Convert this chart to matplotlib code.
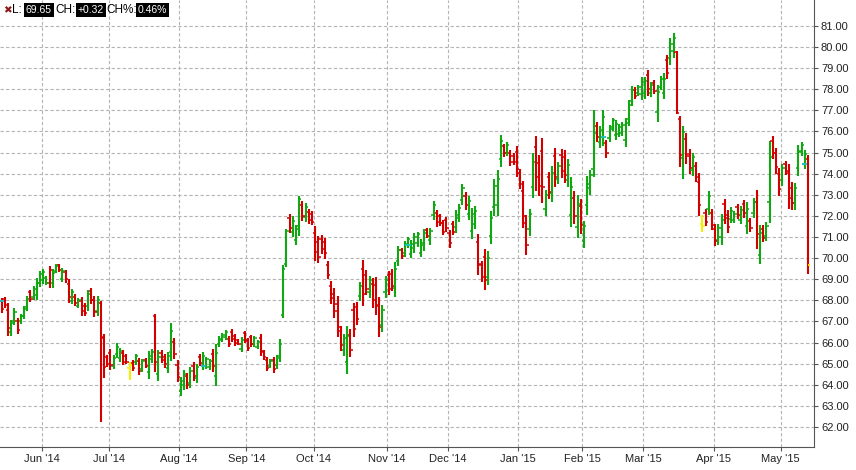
import pandas as pd
import matplotlib
matplotlib.use("Agg")
import matplotlib.pyplot as plt

plt.rcParams["font.family"] = ["Liberation Sans", "DejaVu Sans"]

HOLIDAYS = ["2014-05-26", "2014-07-04", "2014-09-01", "2014-11-27", "2014-12-25",
            "2015-01-01", "2015-01-19", "2015-02-16", "2015-04-03"]

highs = [
    68.13, 68.16, 67.86, 67.06, 67.62, 67.17, 67.33, 67.73, 68.20, 68.49,
    68.70, 69.05, 69.40, 69.50, 69.13, 69.63, 69.50, 69.73, 69.73, 69.52,
    69.44, 69.02, 68.54, 68.29, 68.13, 68.16, 67.87, 68.49, 68.59, 68.20,
    68.20, 67.97, 66.40, 65.43, 65.71, 65.40, 65.98, 65.76, 65.63, 65.44,
    65.06, 65.16, 65.48, 65.29, 65.24, 65.29, 65.60, 65.70, 67.33, 65.63,
    65.63, 65.47, 65.55, 66.92, 66.23, 65.15, 64.39, 64.68, 64.55, 64.84,
    65.10, 65.00, 65.44, 65.55, 65.31, 65.23, 65.70, 65.91, 66.29, 66.44,
    66.60, 66.29, 66.65, 66.41, 66.16, 66.25, 66.55, 66.21, 66.36, 66.32,
    66.13, 66.41, 65.66, 65.31, 65.23, 65.31, 65.42, 66.16, 69.67, 71.40,
    72.10, 71.98, 71.55, 72.92, 72.69, 72.62, 72.31, 72.21, 71.50, 71.03,
    71.08, 70.96, 69.86, 68.91, 68.60, 68.20, 66.79, 66.41, 66.76, 66.65,
    67.87, 67.92, 68.88, 69.91, 69.44, 69.15, 69.04, 69.09, 68.14, 67.78,
    69.15, 69.41, 69.47, 69.83, 70.58, 70.50, 70.81, 70.99, 70.86, 71.21,
    71.26, 70.89, 71.37, 71.41, 71.44, 72.69, 72.30, 72.11, 71.79, 71.95,
    71.35, 71.74, 72.26, 72.55, 73.50, 73.13, 72.93, 72.39, 72.45, 71.13,
    69.87, 70.42, 70.32, 72.22, 73.76, 74.16, 75.84, 75.41, 75.49, 75.12,
    74.96, 75.31, 74.20, 73.64, 72.02, 72.34, 75.00, 75.79, 74.89, 75.68,
    73.25, 74.09, 74.36, 75.20, 74.56, 75.17, 75.12, 74.68, 73.82, 73.17,
    72.98, 72.79, 71.76, 73.88, 74.16, 77.01, 76.43, 76.25, 77.01, 75.62,
    76.30, 76.66, 76.54, 76.35, 76.43, 76.66, 77.49, 78.15, 78.09, 78.20,
    78.56, 78.59, 78.91, 78.33, 78.44, 78.20, 78.63, 78.75, 79.62, 80.41,
    80.68, 79.81, 76.73, 76.25, 75.94, 75.16, 74.99, 74.56, 74.04, 72.03,
    72.31, 73.18, 72.32, 71.61, 71.64, 72.11, 72.82, 72.27, 72.40, 72.22,
    72.56, 72.46, 72.75, 72.64, 71.92, 72.87, 73.22, 71.56, 71.56, 71.72,
    75.54, 75.78, 75.24, 74.25, 74.48, 74.59, 74.45, 73.61, 73.58, 75.35,
    75.48, 75.12, 74.88,
]

lows = [
    67.41, 67.62, 66.30, 66.30, 66.83, 66.41, 66.90, 67.11, 67.50, 67.94,
    68.00, 68.00, 68.65, 68.76, 68.73, 68.57, 68.57, 69.29, 69.32, 68.86,
    68.84, 67.86, 67.81, 67.73, 67.62, 67.27, 67.27, 67.51, 67.84, 67.22,
    67.27, 62.25, 64.32, 64.84, 64.68, 64.73, 65.27, 65.08, 64.92, 64.97,
    64.24, 64.65, 64.95, 64.44, 64.60, 64.79, 64.29, 65.03, 64.60, 64.17,
    65.03, 64.79, 64.55, 65.12, 65.20, 64.12, 63.46, 63.76, 63.81, 63.86,
    64.17, 64.08, 64.91, 64.68, 64.76, 64.68, 64.60, 63.94, 65.78, 66.02,
    66.13, 65.78, 66.02, 65.85, 65.86, 65.53, 65.97, 65.58, 65.78, 65.77,
    65.69, 65.34, 65.19, 64.64, 64.79, 64.56, 64.76, 65.06, 67.15, 69.56,
    71.19, 71.00, 70.61, 71.03, 71.76, 71.71, 71.63, 71.55, 69.87, 69.75,
    70.19, 69.98, 68.99, 67.83, 67.15, 66.25, 65.58, 65.37, 64.52, 65.31,
    66.24, 66.84, 67.98, 67.73, 68.25, 68.12, 67.65, 67.30, 66.24, 66.51,
    68.12, 68.25, 68.44, 68.17, 69.64, 69.94, 70.07, 70.47, 69.99, 70.23,
    70.54, 70.04, 70.35, 70.94, 70.64, 71.79, 71.48, 71.51, 71.08, 71.24,
    70.50, 71.08, 71.19, 71.71, 72.53, 72.30, 71.79, 70.92, 71.37, 69.22,
    68.87, 68.48, 68.72, 70.66, 72.00, 72.00, 74.30, 74.81, 74.84, 74.38,
    74.41, 73.85, 73.26, 71.43, 70.16, 71.03, 72.85, 73.18, 72.93, 72.61,
    71.99, 72.78, 72.66, 73.37, 73.50, 73.80, 73.56, 73.37, 71.47, 71.60,
    70.95, 71.16, 70.48, 72.06, 73.01, 73.85, 75.51, 75.24, 75.32, 74.75,
    75.48, 76.03, 75.62, 75.72, 75.79, 75.27, 76.27, 77.22, 77.52, 77.69,
    77.49, 77.53, 77.69, 77.65, 77.77, 76.46, 77.96, 77.53, 78.47, 79.15,
    79.50, 76.85, 74.32, 73.74, 74.48, 73.97, 73.90, 73.61, 72.00, 71.24,
    71.52, 72.03, 71.32, 70.57, 70.61, 70.61, 71.61, 71.20, 71.67, 71.67,
    71.85, 71.61, 71.92, 71.13, 71.24, 71.92, 70.42, 69.71, 70.77, 70.82,
    71.67, 74.69, 73.98, 72.95, 73.42, 73.96, 72.32, 72.27, 72.30, 73.90,
    74.85, 74.21, 69.27,
]

opens = [
    67.99, 68.05, 67.55, 66.49, 67.03, 67.02, 67.01, 67.27, 67.68, 68.38,
    68.18, 68.26, 68.84, 68.95, 69.05, 68.84, 68.80, 69.40, 69.65, 69.02,
    69.32, 68.79, 67.99, 68.18, 67.75, 67.98, 67.75, 67.75, 68.44, 68.00,
    67.50, 67.85, 66.24, 65.30, 65.50, 64.90, 65.45, 65.25, 65.50, 65.35,
    64.80, 65.05, 65.08, 65.12, 64.76, 65.19, 64.62, 65.20, 67.28, 64.50,
    65.50, 65.33, 64.80, 65.57, 66.02, 64.94, 63.69, 63.99, 64.40, 64.10,
    64.91, 64.31, 65.33, 64.90, 64.90, 64.82, 65.48, 64.43, 65.91, 66.13,
    66.25, 66.19, 66.52, 66.30, 66.10, 65.71, 66.43, 66.08, 66.24, 65.91,
    65.80, 66.20, 65.57, 65.18, 64.90, 65.16, 64.93, 65.34, 67.30, 69.70,
    71.92, 71.25, 70.85, 71.50, 72.50, 71.94, 72.17, 72.08, 71.17, 70.77,
    70.90, 70.76, 69.69, 68.69, 68.31, 67.81, 66.55, 65.63, 65.08, 66.38,
    67.54, 67.70, 68.20, 69.47, 69.20, 68.38, 68.76, 68.73, 67.76, 66.83,
    68.38, 69.18, 69.26, 68.59, 69.88, 70.39, 70.26, 70.60, 70.21, 70.48,
    70.72, 70.25, 70.61, 71.32, 70.84, 72.02, 72.14, 71.99, 71.65, 71.81,
    71.18, 71.61, 71.46, 71.92, 72.77, 72.96, 72.08, 71.29, 71.64, 70.75,
    69.67, 70.03, 69.12, 71.05, 72.44, 72.54, 74.69, 75.29, 75.00, 74.97,
    74.85, 75.02, 74.01, 73.20, 71.65, 71.36, 73.39, 75.27, 74.50, 75.07,
    72.31, 73.83, 73.09, 74.83, 73.77, 74.90, 74.81, 73.70, 72.06, 72.86,
    71.46, 72.46, 70.80, 72.52, 73.30, 74.24, 76.25, 75.49, 75.74, 75.45,
    75.69, 76.19, 75.85, 75.88, 75.95, 75.62, 76.58, 77.45, 77.98, 77.82,
    77.76, 77.80, 78.67, 77.82, 78.31, 76.90, 78.13, 77.83, 79.39, 79.47,
    79.80, 79.75, 76.60, 74.75, 75.65, 74.92, 74.17, 74.37, 73.63, 71.60,
    72.15, 72.32, 72.12, 71.40, 70.87, 70.99, 72.58, 72.06, 71.85, 71.81,
    72.42, 71.82, 72.58, 71.51, 71.78, 72.16, 72.66, 70.17, 71.40, 71.05,
    72.64, 75.56, 74.99, 73.99, 73.69, 74.46, 74.02, 73.34, 72.62, 74.26,
    75.01, 74.44, 74.70,
]

closes = [
    67.59, 67.76, 66.69, 66.91, 67.46, 66.60, 67.24, 67.61, 68.06, 68.08,
    68.56, 68.84, 69.25, 69.35, 68.83, 69.42, 69.31, 69.64, 69.42, 69.39,
    68.99, 68.15, 68.39, 67.87, 68.03, 67.49, 67.42, 68.29, 68.03, 67.46,
    68.01, 66.20, 64.85, 65.00, 64.95, 65.25, 65.80, 65.60, 65.10, 65.08,
    64.95, 64.78, 65.38, 64.65, 65.11, 64.91, 65.34, 65.57, 65.10, 65.30,
    65.18, 64.96, 65.35, 66.56, 65.46, 64.38, 64.20, 64.50, 64.00, 64.64,
    64.40, 64.82, 65.04, 65.38, 65.20, 65.12, 64.88, 65.52, 66.19, 66.36,
    66.51, 65.91, 66.18, 65.99, 65.94, 66.11, 66.12, 65.74, 65.93, 66.21,
    66.04, 65.61, 65.31, 64.81, 65.14, 64.75, 65.29, 65.94, 69.50, 71.30,
    71.42, 71.78, 71.36, 72.80, 71.99, 72.44, 71.80, 71.72, 70.28, 70.07,
    70.41, 70.23, 69.21, 68.10, 67.51, 66.74, 65.88, 66.20, 66.31, 65.65,
    66.65, 67.11, 68.70, 68.28, 68.55, 68.94, 68.00, 67.75, 66.72, 67.53,
    68.94, 68.54, 68.70, 69.50, 70.39, 70.08, 70.66, 70.89, 70.69, 71.01,
    71.12, 70.72, 71.17, 71.06, 71.28, 72.51, 71.69, 71.66, 71.26, 71.42,
    70.71, 71.25, 72.05, 72.38, 73.31, 72.51, 72.70, 72.10, 72.23, 69.70,
    69.12, 68.97, 70.00, 71.91, 73.41, 73.73, 75.53, 74.96, 75.36, 74.56,
    74.55, 74.22, 73.50, 71.98, 70.63, 72.08, 74.57, 73.83, 73.42, 73.38,
    73.00, 73.11, 74.02, 73.83, 74.35, 74.14, 73.95, 74.42, 73.35, 71.99,
    72.57, 71.57, 71.50, 73.52, 73.93, 75.95, 75.74, 76.05, 76.67, 74.97,
    76.14, 76.53, 76.36, 76.22, 76.30, 76.38, 77.25, 77.96, 77.66, 78.10,
    78.35, 78.38, 78.00, 78.19, 77.94, 77.85, 78.50, 78.51, 78.76, 80.16,
    80.44, 76.88, 74.90, 75.97, 74.85, 74.27, 74.77, 73.85, 72.51, 71.50,
    71.72, 72.95, 71.57, 70.83, 71.43, 71.81, 71.91, 71.47, 72.25, 72.11,
    72.03, 72.29, 72.13, 72.34, 71.41, 72.68, 71.12, 71.19, 70.97, 71.54,
    74.77, 74.96, 74.30, 73.28, 74.27, 74.12, 72.85, 72.61, 73.32, 75.06,
    75.35, 74.94, 69.65,
]

# r = red (down), g = green (up), y = yellow (unchanged); ten bars per chunk
bar_colors = (
    "rrrggrgggr" "gggggrggrg" "rrgrgrrgrr" "grrrrgggrr" "yrgrgrggrg"
    "rrggrrggrg" "rgrgggrggg" "grrrrgrrrg" "grrrgrgggg" "rgggrgrrrr"
    "rrrrrrrggr" "rrgrrgrrrg" "grrggrgggg" "gggrggrrrr" "rrgggrgggr"
    "rrgggggrgr" "rrrrrggrrr" "grgrgrrggr" "grggggrggr" "ggggggggrg"
    "ggrgrgggrg" "grrgrrgrry" "rgrrggrrgg" "rgrgrgrgrg" "grrrgrrrgg"
    "ggr"
)

LABELS = ["L:", "69.65", "CH:", "+0.32", "CH%:", "0.46%"]
LABEL_X = [12, 26, 55, 78, 106, 138]
COLORS = {"g": "#10a810", "r": "#d40000", "y": "#f2f000"}
CYAN_BARS = [0, 63, 127, 188, 251]


def main():
    n = len(highs)
    dates = pd.bdate_range("2014-05-13", periods=n, freq="C", holidays=HOLIDAYS)
    x = list(range(n))
    cols = [COLORS[c] for c in bar_colors[:n]]

    fig = plt.figure(figsize=(8.56, 4.70), dpi=100)
    ax = fig.add_axes([0.0, 23 / 470, 814 / 856, 447 / 470])

    ax.vlines(x, lows, highs, colors=cols, lw=1.5, zorder=3)
    ax.hlines(opens, [i - 0.7 for i in x], x, colors=cols, lw=1.1, zorder=3)
    ax.hlines(closes, x, [i + 0.7 for i in x], colors=cols, lw=1.1, zorder=3)
    for i in CYAN_BARS:
        ax.hlines(opens[i], i - 0.8, i + 0.8, colors="#19c3c8", lw=1.3, zorder=4)
    ax.hlines(closes[-1], n - 1, n - 0.2, colors=COLORS["y"], lw=1.3, zorder=4)

    # month separators sit between the last bar of a month and the first of the next
    month_pos, month_lab = [], []
    for i in range(1, n):
        if dates[i].month != dates[i - 1].month:
            month_pos.append(i - 0.5)
            month_lab.append(dates[i].strftime("%b '%y"))
    ax.set_xticks(month_pos)
    ax.set_xticklabels(month_lab, fontsize=8, color="#222222")
    ax.set_xlim(-0.5, 253.9)

    yt = list(range(62, 82))
    ax.set_ylim(61.05, 82.23)
    ax.set_yticks(yt)
    ax.set_yticklabels([f"{v:.2f}" for v in yt], fontsize=8, color="#222222")
    ax.yaxis.tick_right()
    ax.tick_params(axis="both", length=3, width=0.8, color="#555555", pad=2)

    ax.grid(True, color="#b4b4b4", linestyle=(0, (3, 2)), lw=0.8)
    for s in ["top", "left"]:
        ax.spines[s].set_visible(False)
    ax.spines["right"].set_color("#555555")
    ax.spines["bottom"].set_color("#555555")

    # header readout
    yh = 1 - 10 / 470
    fig.text(3 / 856, yh, "\u2716", color="#8b1a1a", fontsize=7.5,
             va="center", family=["DejaVu Sans"])
    for k, (txt, xp) in enumerate(zip(LABELS, LABEL_X)):
        if k % 2:
            fig.text(xp / 856, yh, txt, color="white", fontsize=7.5, va="center",
                     bbox=dict(facecolor="black", edgecolor="none", pad=1.2))
        else:
            fig.text(xp / 856, yh, txt, color="black", fontsize=8.5, va="center")

    fig.savefig("out.png", dpi=100)


if __name__ == "__main__":
    main()
